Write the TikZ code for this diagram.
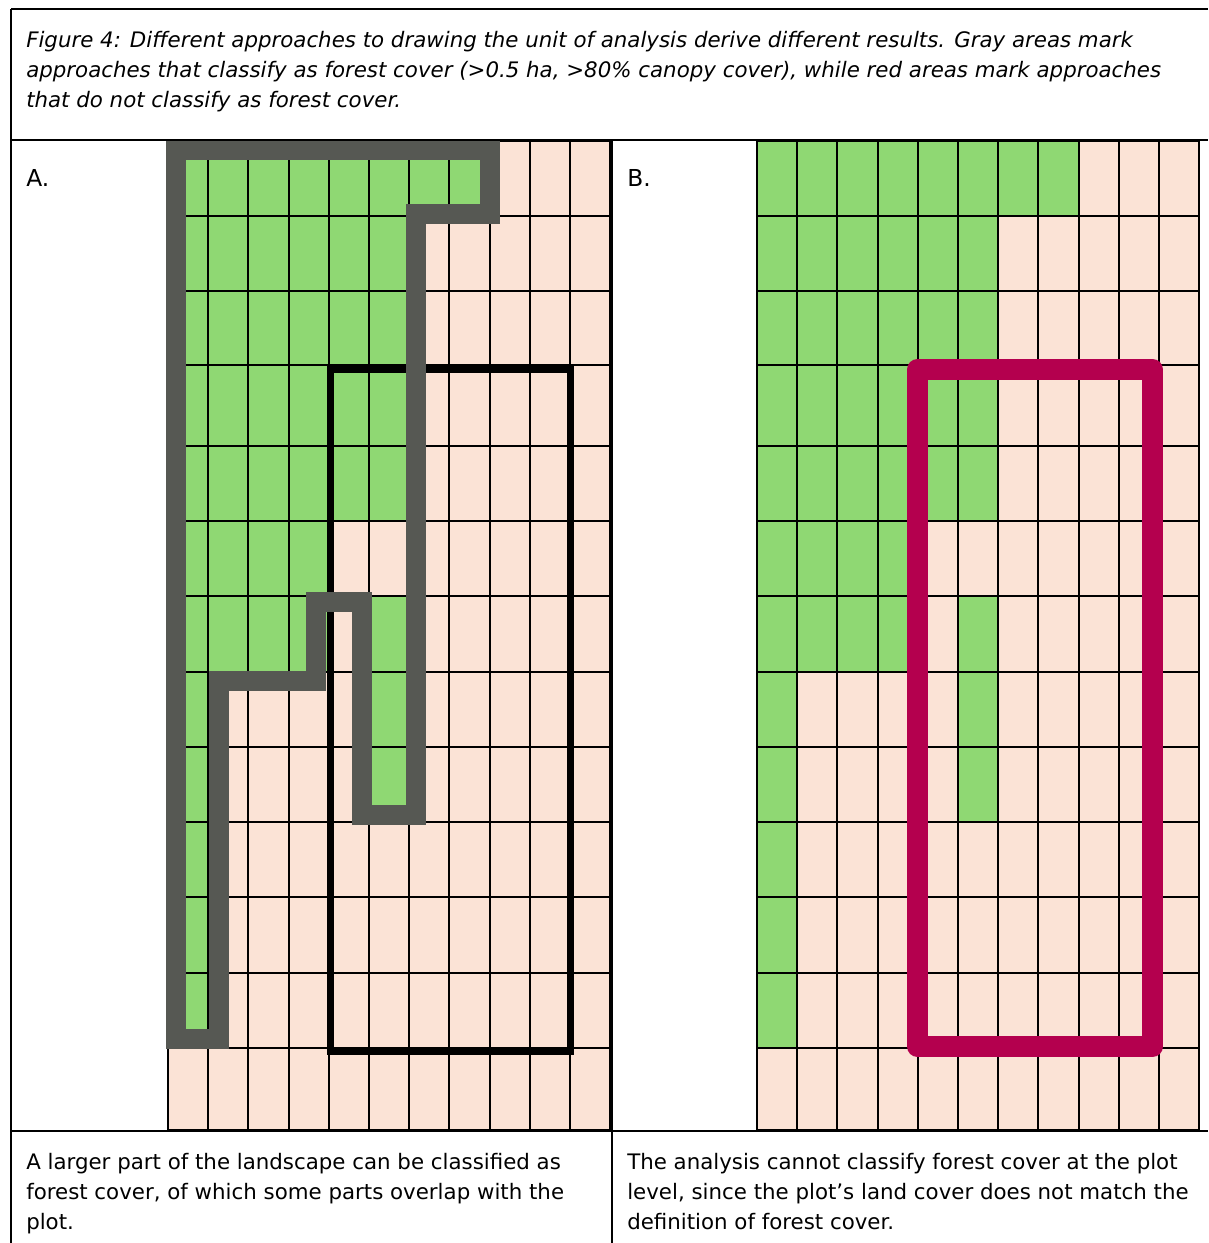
\documentclass[tikz,border=0pt]{standalone}
\usepackage{fontspec}
\setmainfont{DejaVu Sans}
\definecolor{leaf}{RGB}{143,216,115}
\definecolor{blush}{RGB}{251,227,214}
\definecolor{slate}{RGB}{86,88,83}
\definecolor{berry}{RGB}{180,0,78}
\newcommand\drawland[1]{%
\begin{scope}[xshift=#1*0.75pt]
  \fill[blush] (0,141) rectangle (442.2,1130);
  \fill[leaf] (0,141) rectangle (8*40.2,216);
  \fill[leaf] (0,216) rectangle (6*40.2,521);
  \fill[leaf] (0,521) rectangle (4*40.2,672);
  \fill[leaf] (5*40.2,596) rectangle (6*40.2,822);
  \fill[leaf] (0,672) rectangle (40.2,1048);
  \foreach \i in {0,...,11} \draw[gridline] (\i*40.2,141) -- (\i*40.2,1130);
  \foreach \yy in {141,216,291,365,446,521,596,672,747,822,897,973,1048,1130}
    \draw[gridline] (0,\yy) -- (442.2,\yy);
\end{scope}}
\begin{document}
\begin{tikzpicture}[x=0.75pt,y=-0.75pt,
  rule/.style={line width=1.7pt,black},
  gridline/.style={line width=1.4pt,black},
  captext/.style={anchor=base west,inner sep=0pt,font=\fontsize{16}{18}\selectfont\itshape},
  bodytext/.style={anchor=base west,inner sep=0pt,font=\fontsize{16}{18}\selectfont},
  labeltext/.style={anchor=base west,inner sep=0pt,font=\fontsize{17.5}{19}\selectfont},
  forestunit/.style={draw=slate,line width=15pt,line join=miter},
  plotbox/.style={draw=black,line width=5.25pt,line join=miter},
  plotred/.style={draw=berry,line width=15.75pt,line join=round}]
\useasboundingbox (0,0) rectangle (1208,1243);
\fill[white] (0,0) rectangle (1208,1243);

\drawland{168}
\drawland{757}

% plot in panel A
\draw[plotbox] (330,369) rectangle (570,1051);
% forest unit outline in panel A
\draw[forestunit] (176,150) -- (490,150) -- (490,214) -- (416,214) -- (416,815)
  -- (362,815) -- (362,602) -- (316,602) -- (316,681) -- (219,681) -- (219,1039)
  -- (176,1039) -- cycle;
% plot in panel B
\draw[plotred] (917.5,369.5) rectangle (1152.5,1046.5);

% table rules
\coordinate (tl) at (11,9);
\coordinate (tr) at (1208,9);
\coordinate (bl) at (11,1243);
\coordinate (ml) at (11,140);
\coordinate (mr) at (1208,140);
\coordinate (dt) at (612,140);
\coordinate (db) at (612,1243);
\coordinate (ll) at (11,1131);
\coordinate (lr) at (1208,1131);
\draw[rule] (tl) -- (tr);
\draw[rule] (tl) -- (bl);
\draw[rule] (ml) -- (mr);
\draw[rule] (dt) -- (db);
\draw[rule] (ll) -- (lr);

% caption
\node[captext] (cap1) at (26,47) {Figure 4: Different approaches to drawing the unit of analysis derive different results. Gray areas mark};
\node[captext] (cap2) at (26,77) {approaches that classify as forest cover (>0.5 ha, >80\% canopy cover), while red areas mark approaches};
\node[captext] (cap3) at (26,107) {that do not classify as forest cover.};

\node[labeltext] (labA) at (26,186) {A.};
\node[labeltext] (labB) at (627,186) {B.};

\node[bodytext] (ta1) at (26,1169) {A larger part of the landscape can be classified as};
\node[bodytext] (ta2) at (26,1199) {forest cover, of which some parts overlap with the};
\node[bodytext] (ta3) at (26,1229) {plot.};
\node[bodytext] (tb1) at (627,1169) {The analysis cannot classify forest cover at the plot};
\node[bodytext] (tb2) at (627,1199) {level, since the plot’s land cover does not match the};
\node[bodytext] (tb3) at (627,1229) {definition of forest cover.};
\end{tikzpicture}
\end{document}
